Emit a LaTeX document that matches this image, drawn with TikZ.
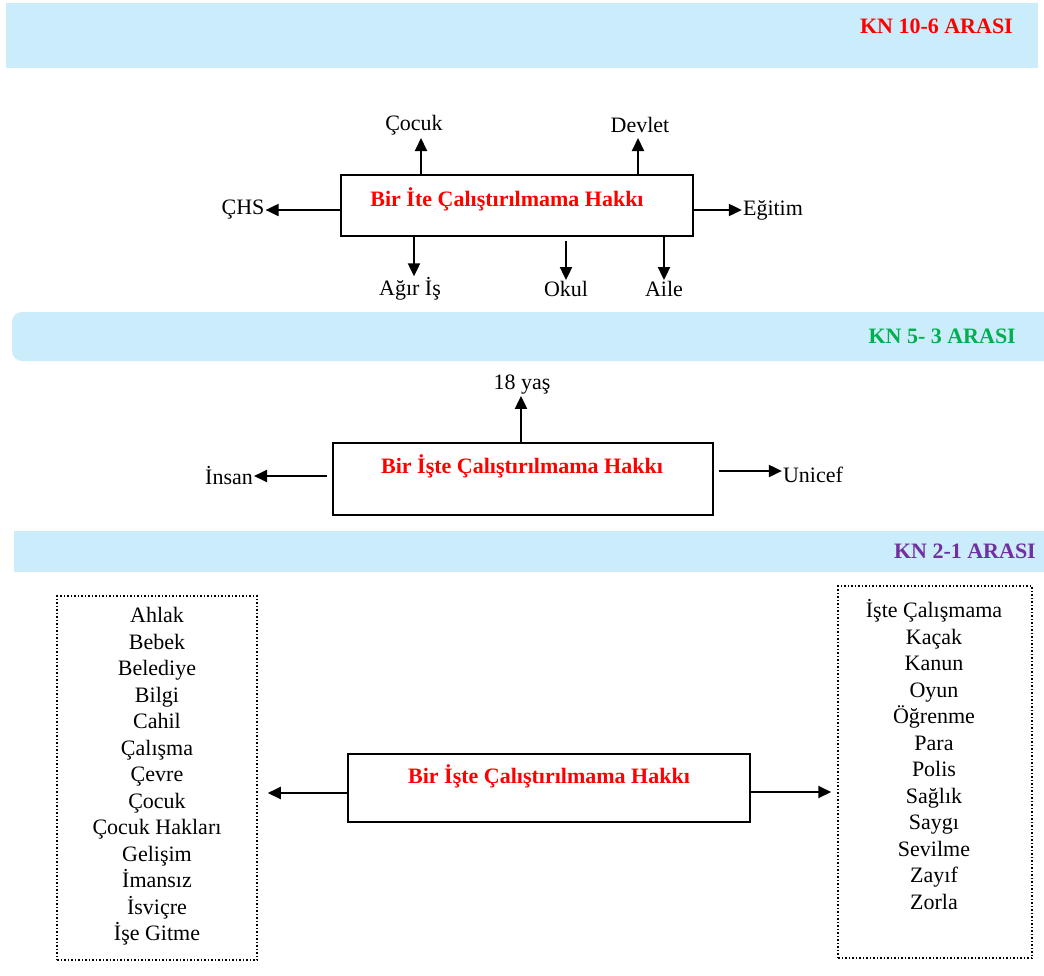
\documentclass[tikz,border=0pt]{standalone}
\usepackage{fontspec}
\setmainfont{Liberation Serif}
\usetikzlibrary{arrows.meta}
\definecolor{banner}{HTML}{CBEDFB}
\definecolor{kred}{HTML}{FF0000}
\definecolor{kgreen}{HTML}{00B050}
\definecolor{kpurple}{HTML}{7030A0}
\begin{document}
\begin{tikzpicture}[x=1pt,y={(0pt,-1pt)},
  bannerbox/.style={fill=banner,draw=none},
  headtxt/.style={font=\fontsize{22}{26}\selectfont\bfseries,anchor=east,inner sep=0pt},
  mainbox/.style={draw=black,line width=1.8pt,rectangle,inner sep=0pt},
  maintxt/.style={font=\fontsize{22}{26}\selectfont\bfseries,text=kred,inner sep=0pt},
  lbl/.style={font=\fontsize{22}{26}\selectfont,inner sep=1pt},
  arr/.style={line width=2pt,-{Triangle[length=13pt,width=12pt]}},
  listbox/.style={draw=black,dotted,line width=1.5pt,rectangle,inner sep=0pt},
  listtxt/.style={font=\fontsize{22}{26.5}\selectfont,align=center,inner sep=0pt}]
\useasboundingbox (0,0) rectangle (1044,975);
\clip (0,0) rectangle (1044,975);
% banners
\fill[bannerbox] (6,3) rectangle (1038,68);
\fill[bannerbox,rounded corners=10pt] (12,312) rectangle (1060,361);
\fill[bannerbox] (14,531) rectangle (1044,572);
\node[headtxt,text=kred] (h1) at (1013,26) {KN 10-6 ARASI};
\node[headtxt,text=kgreen] (h2) at (1016,336) {KN 5- 3 ARASI};
\node[headtxt,text=kpurple] (h3) at (1036,551) {KN 2-1 ARASI};
% section 1
\node[mainbox,minimum width=352pt,minimum height=61pt] (b1) at (517,205.5) {};
\node[maintxt] (t1) at (507,199) {Bir İte Çalıştırılmama Hakkı};
\node[lbl] (cocuk) at (414,125) {Çocuk};
\node[lbl] (devlet) at (640,125) {Devlet};
\node[lbl] (chs) at (243,210) {ÇHS};
\node[lbl] (egitim) at (773,210) {Eğitim};
\node[lbl] (agir) at (410,289) {Ağır İş};
\node[lbl] (okul) at (566,289) {Okul};
\node[lbl] (aile) at (664,289) {Aile};
\coordinate (c1) at (421,138);
\coordinate (c2) at (638,138);
\draw[arr] (b1.north -| c1) -- (c1);
\draw[arr] (b1.north -| c2) -- (c2);
\draw[arr] (b1.west |- chs) -- (chs.east);
\draw[arr] (b1.east |- egitim) -- (egitim.west);
\draw[arr] (b1.south -| 414,0) -- (agir.north -| 414,0);
\draw[arr] ([yshift=-4pt]b1.south -| okul) -- (okul.north);
\draw[arr] (b1.south -| aile) -- (aile.north);
% section 2
\node[mainbox,minimum width=380pt,minimum height=72pt] (b2) at (523,479) {};
\node[maintxt] (t2) at (522,466) {Bir İşte Çalıştırılmama Hakkı};
\node[lbl] (yas) at (522,385) {18 yaş};
\node[lbl] (insan) at (229,476) {İnsan};
\node[lbl] (unicef) at (813,475) {Unicef};
\draw[arr] (b2.north -| 521,0) -- (yas.south -| 521,0);
\draw[arr] ([xshift=-5pt]b2.west |- insan) -- (insan.east);
\draw[arr] ([xshift=5pt]b2.east |- 0,471) -- (unicef.west |- 0,471);
% section 3
\node[mainbox,minimum width=402pt,minimum height=68pt] (b3) at (549,788) {};
\node[maintxt] (t3) at (549,776) {Bir İşte Çalıştırılmama Hakkı};
\node[listbox,minimum width=200pt,minimum height=364pt] (lb) at (157,778) {};
\node[listbox,minimum width=194pt,minimum height=372pt] (rb) at (935,772) {};
\node[listtxt] (ll) at (157,776.5) {Ahlak\\Bebek\\Belediye\\Bilgi\\Cahil\\Çalışma\\Çevre\\Çocuk\\Çocuk Hakları\\Gelişim\\İmansız\\İsviçre\\İşe Gitme};
\node[listtxt] (rl) at (934,754.5) {İşte Çalışmama\\Kaçak\\Kanun\\Oyun\\Öğrenme\\Para\\Polis\\Sağlık\\Saygı\\Sevilme\\Zayıf\\Zorla};
\draw[arr] (b3.west |- 0,793) -- ([xshift=10pt]lb.east |- 0,793);
\draw[arr] (b3.east |- 0,792) -- ([xshift=-6pt]rb.west |- 0,792);
\end{tikzpicture}
\end{document}
